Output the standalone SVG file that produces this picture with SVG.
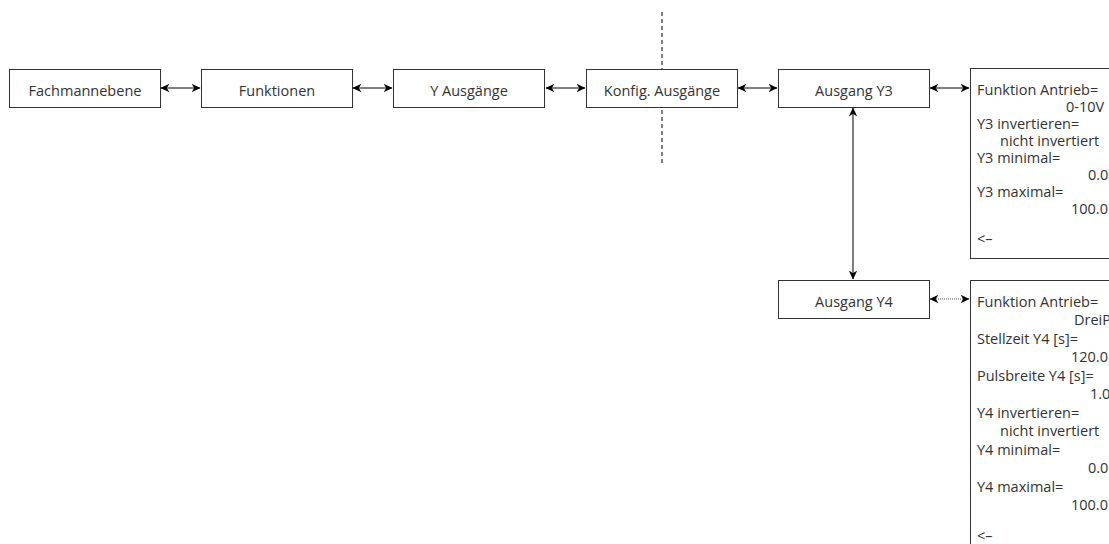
<svg xmlns="http://www.w3.org/2000/svg" width="1109" height="544" viewBox="0 0 1109 544">
  <style>
    .box { fill: #ffffff; stroke: #333333; stroke-width: 1; }
    .lbl { font-family: "Open Sans", "Noto Sans", "Liberation Sans", sans-serif; font-size: 14.5px; fill: #333333; }
    .mid { text-anchor: middle; }
    .link { fill: none; stroke: #000000; stroke-width: 1; }
    .dotted { stroke: #555555; stroke-dasharray: 1 1; }
    .guide { fill: none; stroke: #000000; stroke-width: 1; stroke-dasharray: 4 3; }
  </style>
  <defs>
    <marker id="head" viewBox="0 0 9 10" refX="8.5" refY="5" markerWidth="9" markerHeight="10" markerUnits="userSpaceOnUse" orient="auto-start-reverse">
      <path d="M0,0.8 L9,5 L0,9.2 L2.8,5 Z" fill="#000000"/>
    </marker>
  </defs>

  <rect width="1109" height="544" fill="#ffffff"/>

  <!-- vertical guide line behind the menu row -->
  <line class="guide" x1="662" y1="12" x2="662" y2="165"/>

  <g id="connectors">
    <line class="link" x1="161" y1="88" x2="200" y2="88" marker-start="url(#head)" marker-end="url(#head)"/>
    <line class="link" x1="353" y1="88" x2="392" y2="88" marker-start="url(#head)" marker-end="url(#head)"/>
    <line class="link" x1="546" y1="88" x2="585" y2="88" marker-start="url(#head)" marker-end="url(#head)"/>
    <line class="link" x1="738" y1="88" x2="777" y2="88" marker-start="url(#head)" marker-end="url(#head)"/>
    <line class="link" x1="930" y1="88" x2="969" y2="88" marker-start="url(#head)" marker-end="url(#head)"/>
    <line class="link" x1="853" y1="108" x2="853" y2="279" marker-start="url(#head)" marker-end="url(#head)"/>
    <line class="link dotted" x1="930" y1="299" x2="969" y2="299" marker-start="url(#head)" marker-end="url(#head)"/>
  </g>

  <g id="fachmannebene">
    <rect class="box" x="9.5" y="69.5" width="151" height="38"/>
    <text class="lbl mid" x="85" y="95.5">Fachmannebene</text>
  </g>
  <g id="funktionen">
    <rect class="box" x="201.5" y="69.5" width="151" height="38"/>
    <text class="lbl mid" x="277" y="95.5">Funktionen</text>
  </g>
  <g id="y-ausgaenge">
    <rect class="box" x="393.5" y="69.5" width="151" height="38"/>
    <text class="lbl mid" x="469" y="95.5">Y Ausgänge</text>
  </g>
  <g id="konfig-ausgaenge">
    <rect class="box" x="586.5" y="69.5" width="151" height="38"/>
    <text class="lbl mid" x="662" y="95.5">Konfig. Ausgänge</text>
  </g>
  <g id="ausgang-y3">
    <rect class="box" x="778.5" y="69.5" width="151" height="38"/>
    <text class="lbl mid" x="854" y="95.5">Ausgang Y3</text>
  </g>
  <g id="ausgang-y4">
    <rect class="box" x="778.5" y="280.5" width="151" height="38"/>
    <text class="lbl mid" x="854" y="306.5">Ausgang Y4</text>
  </g>

  <g id="parameter-y3">
    <rect class="box" x="970.5" y="68.5" width="160" height="190"/>
    <text class="lbl" x="977" y="94.5">Funktion Antrieb=</text>
    <text class="lbl" x="1066" y="111.5">0-10V</text>
    <text class="lbl" x="977" y="128.5">Y3 invertieren=</text>
    <text class="lbl" x="1000" y="145.5">nicht invertiert</text>
    <text class="lbl" x="977" y="162.5">Y3 minimal=</text>
    <text class="lbl" x="1088" y="179.5">0.0</text>
    <text class="lbl" x="977" y="196.5">Y3 maximal=</text>
    <text class="lbl" x="1071" y="213.5">100.0</text>
    <text class="lbl" x="977" y="244">&lt;–</text>
  </g>

  <g id="parameter-y4">
    <rect class="box" x="970.5" y="280.5" width="160" height="280"/>
    <text class="lbl" x="977" y="306.5">Funktion Antrieb=</text>
    <text class="lbl" x="1074" y="325">DreiP</text>
    <text class="lbl" x="977" y="343.5">Stellzeit Y4 [s]=</text>
    <text class="lbl" x="1071" y="362">120.0</text>
    <text class="lbl" x="977" y="380.5">Pulsbreite Y4 [s]=</text>
    <text class="lbl" x="1090" y="399">1.0</text>
    <text class="lbl" x="977" y="417.5">Y4 invertieren=</text>
    <text class="lbl" x="1000" y="436">nicht invertiert</text>
    <text class="lbl" x="977" y="454.5">Y4 minimal=</text>
    <text class="lbl" x="1088" y="473">0.0</text>
    <text class="lbl" x="977" y="491.5">Y4 maximal=</text>
    <text class="lbl" x="1071" y="510">100.0</text>
    <text class="lbl" x="977" y="541">&lt;–</text>
  </g>
</svg>
